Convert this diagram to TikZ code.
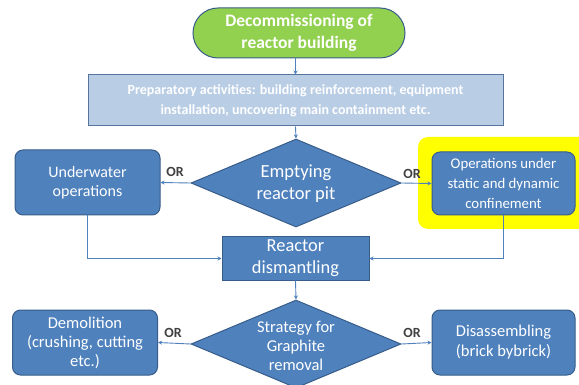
\documentclass[tikz,border=0pt]{standalone}
\usepackage{fontspec}
\setmainfont{Carlito}
\usetikzlibrary{shapes.geometric,arrows.meta}
\definecolor{boxblue}{HTML}{4F81BD}
\definecolor{boxedge}{HTML}{385D8A}
\definecolor{lightblue}{HTML}{B9CDE5}
\definecolor{startgreen}{HTML}{92D050}
\definecolor{hl}{HTML}{FFFF00}
\definecolor{ortext}{HTML}{404040}
\begin{document}
\begin{tikzpicture}[x=1pt,y=-1pt,
  box/.style={draw=boxedge, line width=1pt, fill=boxblue, rounded corners=8pt, text=white,
    font=\fontsize{16}{19.5}\selectfont, align=center, inner sep=0pt},
  dia/.style={diamond, draw=boxedge, fill=boxblue, line width=1pt, inner sep=0pt,
    minimum width=210pt, minimum height=88pt},
  diatext/.style={text=white, align=center, inner sep=0pt},
  conn/.style={draw=boxblue, line width=0.9pt, -{Stealth[length=4pt,width=4pt]}},
  orl/.style={text=ortext, font=\bfseries\fontsize{14}{16}\selectfont, inner sep=0pt}]
\useasboundingbox (0,0) rectangle (579,385);
\clip (0,0) rectangle (579,385);
\fill[white] (0,0) rectangle (579,385);
% highlight
\fill[hl, rounded corners=10pt] (418,137) rectangle (595,229);
% nodes
\node[draw=boxedge, line width=1pt, fill=startgreen, rounded corners=25pt,
  minimum width=212pt, minimum height=50pt, text=white, align=center,
  font=\bfseries\fontsize{17.5}{22}\selectfont, inner sep=0pt] (start) at (299,33)
  {Decommissioning of\\reactor building};
\node[draw=boxedge!85, line width=1pt, fill=lightblue, minimum width=415pt, minimum height=51pt,
  text=white, align=center, font=\bfseries\fontsize{14}{20}\selectfont, inner sep=0pt]
  (prep) at (295.5,100.5)
  {Preparatory activities: building reinforcement, equipment\\installation, uncovering main containment etc.};
\node[dia] (d1) at (296,183) {};
\node[diatext, font=\fontsize{18.5}{22}\selectfont] (d1t) at (296,184) {Emptying\\reactor pit};
\node[box, minimum width=145pt, minimum height=65pt] (uw) at (87.5,182.5) {Underwater\\operations};
\node[box, minimum width=143pt, minimum height=63pt, font=\fontsize{14.8}{20}\selectfont]
  (ops) at (503.5,183.5) {Operations under\\static and dynamic\\confinement};
\node[box, rounded corners=0pt, minimum width=147pt, minimum height=43pt,
  font=\fontsize{18.4}{22}\selectfont] (dis) at (295.5,258.5) {Reactor\\dismantling};
\node[dia] (d2) at (296,344) {};
\node[diatext, font=\fontsize{16.5}{19}\selectfont] (d2t) at (296,346) {Strategy for\\Graphite\\removal};
\node[box, minimum width=145pt, minimum height=65pt, font=\fontsize{16.5}{19}\selectfont] (dem) at (85,342.5)
  {Demolition\\(crushing, cutting\\etc.)};
\node[box, minimum width=143pt, minimum height=65pt, font=\fontsize{16.5}{20}\selectfont] (das) at (503.5,342.5)
  {Disassembling\\(brick bybrick)};
% connectors
\draw[conn] (prep.north |- start.south) -- (prep.north);
\draw[conn] (prep.south) -- (d1.north);
\draw[conn] (d1.west) -- (uw.east);
\draw[conn] (d1.east) -- (ops.west);
\draw[conn] (uw.south) |- (dis.west);
\draw[conn] (ops.south) |- (dis.east);
\draw[conn] (dis.south) -- (d2.north);
\draw[conn] (d2.west) -- (dem.east);
\draw[conn] (d2.east) -- (das.west);
% OR labels
\node[orl] (or1) at (175,172) {OR};
\node[orl] (or2) at (412,174) {OR};
\node[orl] (or3) at (173,333) {OR};
\node[orl] (or4) at (412,333) {OR};
\end{tikzpicture}
\end{document}
